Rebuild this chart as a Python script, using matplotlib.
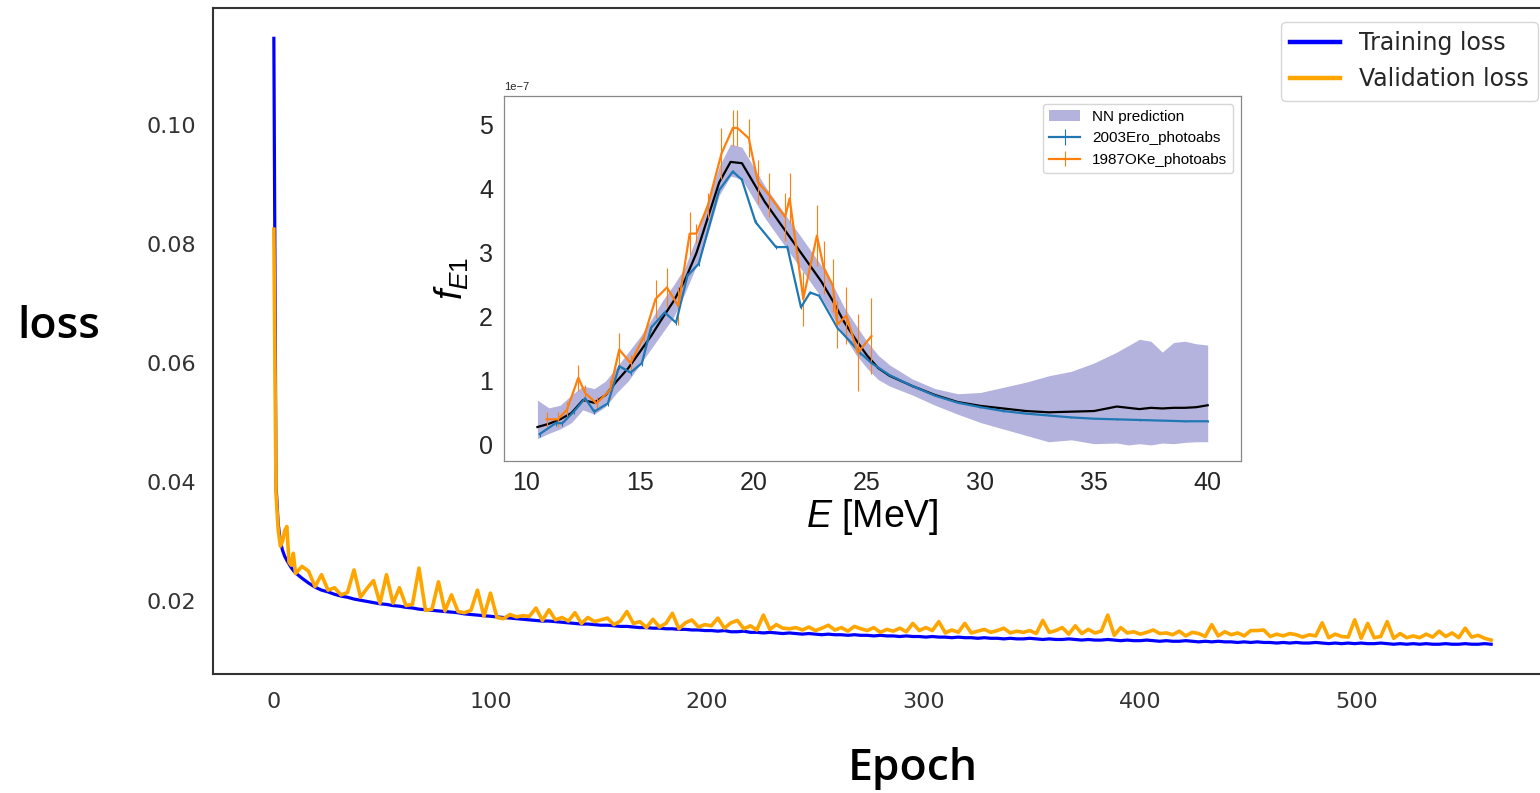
import numpy as np
import matplotlib.pyplot as plt

plt.rcParams['mathtext.fontset'] = 'custom'
plt.rcParams['mathtext.rm'] = 'Liberation Sans'
plt.rcParams['mathtext.it'] = 'Liberation Sans:italic'

# ---- loss history (main panel) ----
epochs = list(range(0, 10)) + list(range(10, 563, 3))

train_loss = [0.1146, 0.0395, 0.0330, 0.0300, 0.0285, 0.0275, 0.0268, 0.0262, 0.0256, 0.0251,
    0.0247, 0.0238, 0.0230, 0.0223, 0.0218, 0.0215, 0.0211, 0.0208, 0.0206, 0.0203,
    0.0201, 0.0199, 0.0197, 0.0195, 0.0194, 0.0192, 0.0191, 0.0189, 0.0188, 0.0186,
    0.0185, 0.0184, 0.0183, 0.0182, 0.0181, 0.0180, 0.0178, 0.0177, 0.0176, 0.0175,
    0.0174, 0.0173, 0.0172, 0.0171, 0.0170, 0.0169, 0.0168, 0.0167, 0.0166, 0.0166,
    0.0165, 0.0164, 0.0163, 0.0162, 0.0161, 0.0161, 0.0160, 0.0159, 0.0159, 0.0158,
    0.0157, 0.0157, 0.0156, 0.0155, 0.0155, 0.0154, 0.0154, 0.0153, 0.0153, 0.0152,
    0.0152, 0.0151, 0.0151, 0.0150, 0.0150, 0.0149, 0.0150, 0.0148, 0.0148, 0.0149,
    0.0147, 0.0147, 0.0146, 0.0147, 0.0146, 0.0145, 0.0146, 0.0145, 0.0144, 0.0145,
    0.0144, 0.0143, 0.0144, 0.0143, 0.0143, 0.0142, 0.0143, 0.0142, 0.0142, 0.0141,
    0.0142, 0.0141, 0.0141, 0.0140, 0.0141, 0.0140, 0.0140, 0.0139, 0.0140, 0.0139,
    0.0139, 0.0138, 0.0139, 0.0138, 0.0138, 0.0137, 0.0138, 0.0137, 0.0137, 0.0136,
    0.0137, 0.0136, 0.0136, 0.0137, 0.0136, 0.0135, 0.0136, 0.0135, 0.0135, 0.0136,
    0.0135, 0.0134, 0.0135, 0.0134, 0.0134, 0.0135, 0.0134, 0.0133, 0.0134, 0.0133,
    0.0133, 0.0134, 0.0133, 0.0132, 0.0133, 0.0132, 0.0132, 0.0133, 0.0132, 0.0131,
    0.0132, 0.0131, 0.0132, 0.0131, 0.0131, 0.0130, 0.0131, 0.0130, 0.0131, 0.0130,
    0.0130, 0.0129, 0.0130, 0.0129, 0.0130, 0.0129, 0.0129, 0.0130, 0.0129, 0.0128,
    0.0129, 0.0128, 0.0129, 0.0128, 0.0129, 0.0128, 0.0128, 0.0129, 0.0128, 0.0127,
    0.0128, 0.0127, 0.0128, 0.0127, 0.0128, 0.0127, 0.0127, 0.0128, 0.0127, 0.0127,
    0.0128, 0.0127, 0.0127, 0.0128, 0.0127]

val_loss = [0.0825, 0.0380, 0.0320, 0.0292, 0.0300, 0.0318, 0.0325, 0.0265, 0.0260, 0.0280,
    0.0246, 0.0258, 0.0250, 0.0224, 0.0244, 0.0218, 0.0222, 0.0210, 0.0214, 0.0252,
    0.0206, 0.0221, 0.0234, 0.0196, 0.0244, 0.0196, 0.0222, 0.0192, 0.0194, 0.0255,
    0.0184, 0.0186, 0.0232, 0.0183, 0.0210, 0.0182, 0.0180, 0.0184, 0.0218, 0.0174,
    0.0213, 0.0172, 0.0170, 0.0177, 0.0173, 0.0175, 0.0174, 0.0188, 0.0167, 0.0185,
    0.0168, 0.0172, 0.0166, 0.0180, 0.0162, 0.0172, 0.0165, 0.0168, 0.0171, 0.0160,
    0.0166, 0.0182, 0.0162, 0.0165, 0.0155, 0.0169, 0.0156, 0.0162, 0.0179, 0.0153,
    0.0163, 0.0168, 0.0156, 0.0160, 0.0158, 0.0171, 0.0154, 0.0163, 0.0167, 0.0153,
    0.0158, 0.0151, 0.0176, 0.0152, 0.0160, 0.0154, 0.0153, 0.0155, 0.0151, 0.0156,
    0.0150, 0.0154, 0.0159, 0.0151, 0.0155, 0.0149, 0.0157, 0.0153, 0.0150, 0.0155,
    0.0147, 0.0152, 0.0149, 0.0154, 0.0148, 0.0162, 0.0150, 0.0155, 0.0150, 0.0165,
    0.0146, 0.0151, 0.0147, 0.0162, 0.0146, 0.0149, 0.0152, 0.0147, 0.0150, 0.0154,
    0.0146, 0.0149, 0.0147, 0.0150, 0.0145, 0.0167, 0.0147, 0.0150, 0.0155, 0.0144,
    0.0158, 0.0145, 0.0152, 0.0146, 0.0149, 0.0176, 0.0142, 0.0155, 0.0146, 0.0148,
    0.0144, 0.0147, 0.0151, 0.0145, 0.0146, 0.0143, 0.0149, 0.0141, 0.0147, 0.0145,
    0.0140, 0.0160, 0.0141, 0.0148, 0.0143, 0.0146, 0.0141, 0.0150, 0.0150, 0.0151,
    0.0140, 0.0144, 0.0141, 0.0145, 0.0143, 0.0139, 0.0143, 0.0141, 0.0163, 0.0138,
    0.0144, 0.0140, 0.0139, 0.0168, 0.0137, 0.0162, 0.0138, 0.0140, 0.0165, 0.0137,
    0.0145, 0.0138, 0.0141, 0.0138, 0.0144, 0.0139, 0.0149, 0.0140, 0.0146, 0.0138,
    0.0154, 0.0139, 0.0142, 0.0137, 0.0134]

# ---- inset: E1 strength function (units of 1e-7) ----
E_nn = [10.5, 11.0, 11.5, 12.0, 12.5, 13.0, 13.5, 14.0, 14.5, 15.0, 15.5, 16.0, 16.5, 17.0,
        17.5, 18.0, 18.5, 19.0, 19.5, 20.0, 20.5, 21.0, 21.5, 22.0, 22.5, 23.0, 23.5, 24.0,
        24.5, 25.0, 25.5, 26.0, 27.0, 28.0, 29.0, 30.0, 31.0, 32.0, 33.0, 34.0, 35.0, 36.0,
        36.5, 37.0, 37.5, 38.0, 38.5, 39.0, 39.5, 40.0]
nn_mean = [0.28, 0.33, 0.40, 0.50, 0.70, 0.66, 0.78, 1.00, 1.20, 1.45, 1.70, 1.98, 2.25, 2.58,
           3.00, 3.55, 4.10, 4.42, 4.40, 4.10, 3.80, 3.55, 3.30, 3.05, 2.80, 2.55, 2.25, 1.92,
           1.65, 1.40, 1.20, 1.08, 0.92, 0.78, 0.67, 0.61, 0.57, 0.53, 0.51, 0.52, 0.53, 0.60,
           0.58, 0.56, 0.58, 0.57, 0.58, 0.58, 0.59, 0.62]
nn_upper = [0.70, 0.58, 0.62, 0.78, 0.92, 0.88, 1.00, 1.22, 1.45, 1.68, 1.95, 2.25, 2.50, 2.78,
            3.25, 3.80, 4.35, 4.70, 4.65, 4.35, 4.05, 3.80, 3.55, 3.30, 3.05, 2.80, 2.50, 2.15,
            1.88, 1.62, 1.40, 1.25, 1.03, 0.88, 0.80, 0.82, 0.90, 0.98, 1.08, 1.15, 1.28, 1.45,
            1.55, 1.65, 1.62, 1.45, 1.60, 1.62, 1.58, 1.56]
nn_lower = [0.10, 0.18, 0.25, 0.35, 0.55, 0.48, 0.60, 0.82, 1.00, 1.25, 1.50, 1.75, 2.00, 2.38,
            2.80, 3.30, 3.90, 4.20, 4.15, 3.85, 3.55, 3.30, 3.05, 2.80, 2.55, 2.30, 2.00, 1.70,
            1.42, 1.20, 1.02, 0.92, 0.78, 0.62, 0.48, 0.35, 0.25, 0.15, 0.05, 0.08, 0.02, 0.03,
            0.00, 0.02, 0.00, 0.03, 0.02, 0.04, 0.05, 0.05]

E_ero = [10.6, 11.3, 11.6, 12.1, 12.6, 13.0, 13.6, 14.1, 14.6, 15.1, 15.5, 16.1, 16.6, 17.1,
         17.6, 18.5, 19.1, 19.5, 20.1, 21.0, 21.5, 22.1, 22.5, 22.9, 23.7, 24.3, 24.7, 25.2,
         26.0, 27.0, 28.0, 29.0, 30.0, 31.0, 32.0, 33.0, 34.0, 35.0, 36.0, 37.0, 38.0, 39.0, 40.0]
f_ero = [0.17, 0.34, 0.34, 0.52, 0.73, 0.52, 0.65, 1.23, 1.13, 1.28, 1.83, 2.07, 1.91, 2.64,
         2.83, 3.98, 4.27, 4.14, 3.48, 3.09, 3.09, 2.15, 2.38, 2.33, 1.83, 1.60, 1.44, 1.28,
         1.09, 0.92, 0.77, 0.66, 0.59, 0.53, 0.49, 0.46, 0.43, 0.41, 0.40, 0.39, 0.38, 0.37, 0.37]
err_ero = [0.04] * 15 + [0.03] * 13 + [0.01] * 15

E_oke = [10.9, 11.4, 11.8, 12.3, 12.6, 13.1, 13.7, 14.1, 14.6, 15.2, 15.7, 16.2, 16.7, 17.2,
         17.5, 18.0, 18.6, 19.1, 19.3, 19.8, 20.2, 20.7, 21.4, 21.6, 22.2, 22.8, 23.1, 23.5,
         23.7, 24.1, 24.6, 25.2]
f_oke = [0.40, 0.40, 0.55, 1.05, 0.81, 0.65, 0.86, 1.49, 1.28, 1.70, 2.28, 2.46, 2.17, 3.30,
         3.30, 3.74, 4.55, 4.95, 4.95, 4.79, 4.11, 3.90, 3.56, 3.85, 2.28, 3.27, 2.77, 2.49,
         1.88, 2.02, 1.44, 1.70]
err_oke = [0.12, 0.12, 0.12, 0.20, 0.12, 0.10, 0.15, 0.26, 0.12, 0.08, 0.29, 0.30, 0.30, 0.34,
           0.15, 0.20, 0.40, 0.28, 0.28, 0.30, 0.34, 0.34, 0.37, 0.39, 0.42, 0.47, 0.42, 0.42,
           0.37, 0.45, 0.60, 0.59]

fig = plt.figure(figsize=(15.4, 7.93), dpi=100, facecolor='white')

# main axes (right edge runs slightly past the picture, as in the reference)
ax = fig.add_axes([0.1383, 0.1501, 0.8695, 0.8398])
ax.plot(epochs, train_loss, color='blue', lw=2.3, label='Training loss')
ax.plot(epochs, val_loss, color='orange', lw=2.6, label='Validation loss')
ax.set_xlim(-28.1, 590.1)
ax.set_ylim(0.0077, 0.1197)
ax.set_xticks([0, 100, 200, 300, 400, 500])
ax.set_yticks([0.02, 0.04, 0.06, 0.08, 0.10])
ax.yaxis.set_major_formatter('{x:.2f}')
ax.tick_params(length=0, labelsize=16, labelcolor='#333333')
ax.tick_params(axis='y', pad=12)
ax.tick_params(axis='x', pad=13)
for s in ax.spines.values():
    s.set_color('#333333')
    s.set_linewidth(1.5)

leg = fig.legend(loc='upper right', bbox_to_anchor=(1538 / 1540, 771 / 793),
                 borderaxespad=0, fontsize=17, handlelength=2.1, frameon=True,
                 labelcolor='#262626')
leg.get_frame().set_edgecolor('#cccccc')
for h in leg.get_lines():
    h.set_linewidth(3.2)

fig.text(59 / 1540, 1 - 326 / 793, 'loss', ha='center', va='center',
         fontsize=32, family='Open Sans', weight='semibold', color='black')
fig.text(913 / 1540, 1 - 768 / 793, 'Epoch', ha='center', va='center',
         fontsize=32, family='Open Sans', weight='semibold', color='black')

# inset
axin = fig.add_axes([0.3273, 0.4187, 0.4786, 0.4603])
axin.fill_between(E_nn, nn_lower, nn_upper, color='#b3b3de', lw=0, label='NN prediction')
axin.plot(E_nn, nn_mean, color='black', lw=1.6)
axin.errorbar(E_ero, f_ero, yerr=err_ero, color='#1f77b4', lw=1.6, elinewidth=0.8,
              label='2003Ero_photoabs')
axin.errorbar(E_oke, f_oke, yerr=err_oke, color='#ff7f0e', lw=1.6, elinewidth=0.8,
              label='1987OKe_photoabs')
axin.set_xlim(9.03, 41.47)
axin.set_ylim(-0.25, 5.45)
xt = [10, 15, 20, 25, 30, 35, 40]
yt = [0, 1, 2, 3, 4, 5]
axin.set_xticks(xt, [str(v) for v in xt], fontsize=18, family='Liberation Sans')
axin.set_yticks(yt, [str(v) for v in yt], fontsize=18, family='Liberation Sans')
axin.tick_params(length=0, labelcolor='#262626')
axin.tick_params(axis='y', pad=8)
axin.tick_params(axis='x', pad=7)
for s in axin.spines.values():
    s.set_color('#888888')
    s.set_linewidth(0.9)
axin.set_xlabel(r'$E$ [MeV]', fontsize=27, family='Liberation Sans', labelpad=2)
axin.set_ylabel(r'$f_{E1}$', fontsize=27, labelpad=6)
axin.text(0, 1.012, '1e\u22127', transform=axin.transAxes, fontsize=8,
          family='Liberation Sans', ha='left', va='bottom', color='#262626')
lg = axin.legend(loc='upper right', prop={'family': 'Liberation Sans', 'size': 11},
                 handlelength=2.0, frameon=True)
lg.get_frame().set_edgecolor('#cccccc')

fig.savefig('out.png', dpi=100, facecolor='white')
